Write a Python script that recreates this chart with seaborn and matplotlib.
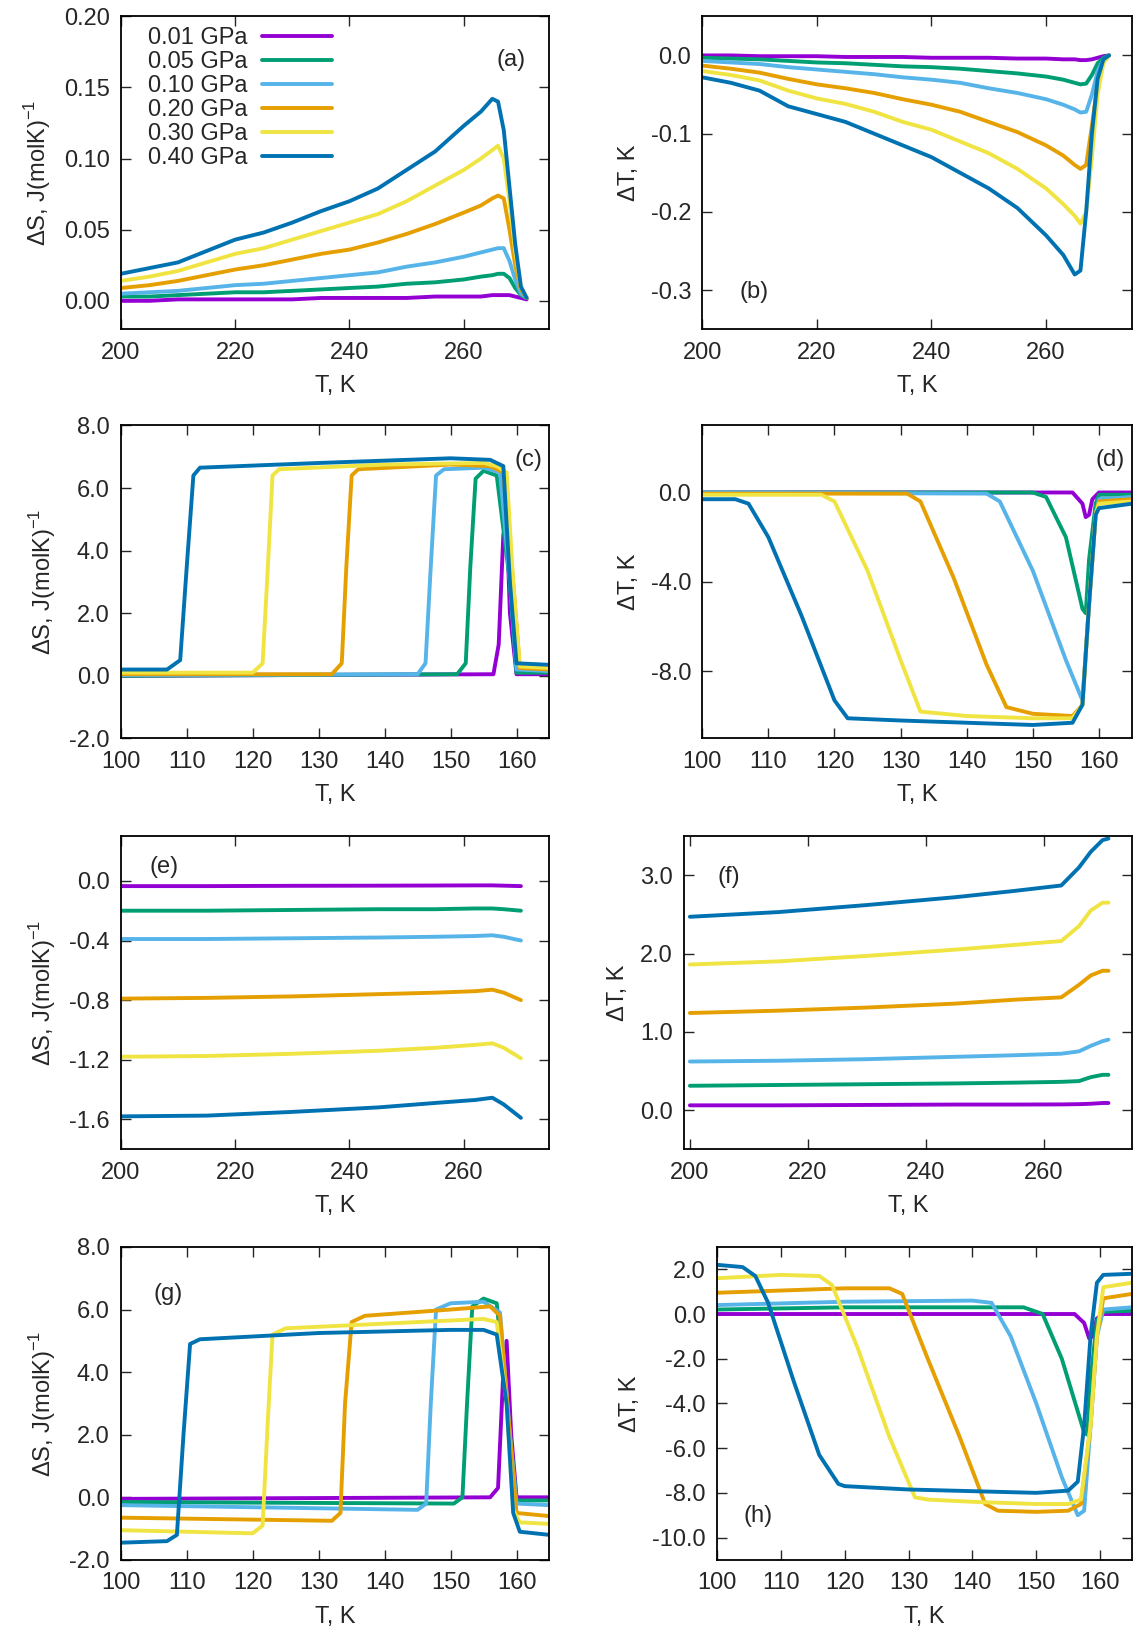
import numpy as np
import pandas as pd
import matplotlib
matplotlib.use("Agg")
import matplotlib.pyplot as plt
import seaborn as sns

pressures = ["0.01 GPa", "0.05 GPa", "0.10 GPa", "0.20 GPa", "0.30 GPa", "0.40 GPa"]
colors = ["#9400d3", "#009e73", "#56b4e9", "#e69f00", "#f0e442", "#0072b2"]

# ---- (a) dS, high T ----
a_x = [200, 205, 210, 215, 220, 225, 230, 235, 240, 245, 250, 255, 260, 263, 265, 266, 267, 268, 269, 270, 271]
a_y = [
    [0.000, 0.000, 0.001, 0.001, 0.001, 0.001, 0.001, 0.002, 0.002, 0.002, 0.002, 0.003, 0.003, 0.003, 0.004, 0.004, 0.004, 0.004, 0.003, 0.002, 0.001],
    [0.003, 0.003, 0.004, 0.005, 0.006, 0.006, 0.007, 0.008, 0.009, 0.010, 0.012, 0.013, 0.015, 0.017, 0.018, 0.019, 0.019, 0.016, 0.009, 0.004, 0.002],
    [0.005, 0.006, 0.007, 0.009, 0.011, 0.012, 0.014, 0.016, 0.018, 0.020, 0.024, 0.027, 0.031, 0.034, 0.036, 0.037, 0.037, 0.028, 0.015, 0.005, 0.002],
    [0.009, 0.011, 0.014, 0.018, 0.022, 0.025, 0.029, 0.033, 0.036, 0.041, 0.047, 0.054, 0.062, 0.067, 0.072, 0.074, 0.072, 0.050, 0.025, 0.008, 0.002],
    [0.014, 0.017, 0.021, 0.027, 0.033, 0.037, 0.043, 0.049, 0.055, 0.061, 0.070, 0.081, 0.092, 0.100, 0.106, 0.109, 0.100, 0.070, 0.035, 0.010, 0.002],
    [0.019, 0.023, 0.027, 0.035, 0.043, 0.048, 0.055, 0.063, 0.070, 0.079, 0.092, 0.105, 0.123, 0.133, 0.142, 0.140, 0.120, 0.080, 0.040, 0.010, 0.002],
]

# ---- (b) dT, high T ----
b_x = a_x
b_y = [
    [0.0, 0.0, -0.001, -0.001, -0.001, -0.002, -0.002, -0.002, -0.003, -0.003, -0.003, -0.004, -0.004, -0.005, -0.005, -0.006, -0.006, -0.005, -0.003, -0.001, 0.0],
    [-0.003, -0.004, -0.005, -0.007, -0.009, -0.010, -0.012, -0.014, -0.015, -0.017, -0.020, -0.023, -0.027, -0.031, -0.035, -0.037, -0.036, -0.025, -0.010, -0.003, 0.0],
    [-0.007, -0.009, -0.011, -0.015, -0.018, -0.021, -0.024, -0.028, -0.031, -0.035, -0.042, -0.048, -0.056, -0.063, -0.069, -0.073, -0.072, -0.050, -0.020, -0.005, 0.0],
    [-0.013, -0.017, -0.022, -0.030, -0.037, -0.042, -0.048, -0.056, -0.063, -0.072, -0.085, -0.098, -0.115, -0.128, -0.140, -0.145, -0.140, -0.090, -0.035, -0.008, 0.0],
    [-0.020, -0.025, -0.032, -0.045, -0.055, -0.062, -0.072, -0.085, -0.095, -0.110, -0.125, -0.145, -0.170, -0.190, -0.205, -0.215, -0.200, -0.130, -0.050, -0.010, 0.0],
    [-0.028, -0.035, -0.045, -0.065, -0.075, -0.085, -0.100, -0.115, -0.130, -0.150, -0.170, -0.195, -0.230, -0.255, -0.280, -0.275, -0.200, -0.100, -0.030, -0.005, 0.0],
]

# ---- (c) dS, low T ----
c_x = [
    [100, 156.5, 157.3, 158, 158.5, 159, 160, 165],
    [100, 151, 152.3, 153, 153.8, 155, 157, 159, 160, 165],
    [100, 145, 146.2, 147, 147.8, 149, 155, 157.5, 159, 160, 165],
    [100, 132, 133.5, 134.2, 135, 136, 150, 156, 158, 159.5, 160.5, 165],
    [100, 120, 121.5, 122.3, 123, 124, 140, 155, 157, 158.5, 159.5, 160.5, 165],
    [100, 107, 109, 110, 111, 112, 130, 150, 156, 158, 159, 160, 165],
]
c_y = [
    [0, 0.05, 1, 4.5, 5.0, 2, 0.05, 0.05],
    [0.0, 0.05, 0.4, 3.5, 6.3, 6.55, 6.4, 3, 0.1, 0.1],
    [0.02, 0.05, 0.4, 3.5, 6.4, 6.6, 6.65, 6.5, 3, 0.2, 0.15],
    [0.05, 0.05, 0.4, 3.5, 6.4, 6.6, 6.75, 6.7, 6.5, 3, 0.25, 0.2],
    [0.1, 0.1, 0.4, 3.5, 6.4, 6.6, 6.75, 6.8, 6.7, 6.5, 3, 0.3, 0.25],
    [0.2, 0.2, 0.5, 3.5, 6.4, 6.65, 6.8, 6.95, 6.9, 6.7, 3, 0.4, 0.35],
]

# ---- (d) dT, low T ----
d_x = [
    [100, 156, 157.5, 158, 158.5, 159, 160, 165],
    [100, 150, 152, 155, 157.5, 158, 158.5, 159.5, 160, 165],
    [100, 143, 145, 150, 155, 157.5, 158.5, 159.5, 160, 165],
    [100, 131, 133, 138, 143, 146, 150, 156, 157.5, 158.5, 159.5, 160, 165],
    [100, 118, 120, 125, 130, 133, 140, 150, 156, 157.5, 158.5, 159.5, 160, 165],
    [100, 105, 107, 110, 115, 120, 122, 130, 150, 156, 157.5, 158.5, 159.5, 160, 165],
]
d_y = [
    [0, 0, -0.5, -1.1, -1.0, -0.3, 0, 0],
    [0, 0, -0.2, -2, -5.2, -5.4, -3, -0.5, -0.1, -0.1],
    [0, -0.05, -0.4, -3.5, -7.5, -9.3, -5, -1, -0.3, -0.2],
    [-0.05, -0.05, -0.4, -3.8, -7.7, -9.6, -9.9, -10, -9.5, -5, -1, -0.4, -0.3],
    [-0.1, -0.1, -0.4, -3.5, -7.5, -9.8, -10.0, -10.1, -10.1, -9.5, -5, -1, -0.5, -0.4],
    [-0.3, -0.3, -0.5, -2, -5.5, -9.3, -10.1, -10.2, -10.4, -10.3, -9.5, -5, -1, -0.7, -0.5],
]

# ---- (e) dS, high T, reverse ----
e_x = [200, 215, 230, 245, 255, 262, 265, 267, 270]
e_y = [
    [-0.035, -0.035, -0.033, -0.032, -0.031, -0.030, -0.030, -0.032, -0.035],
    [-0.20, -0.20, -0.195, -0.19, -0.19, -0.185, -0.185, -0.19, -0.20],
    [-0.39, -0.39, -0.385, -0.38, -0.375, -0.37, -0.365, -0.375, -0.40],
    [-0.79, -0.785, -0.775, -0.76, -0.75, -0.74, -0.73, -0.75, -0.80],
    [-1.18, -1.175, -1.16, -1.14, -1.12, -1.10, -1.09, -1.12, -1.19],
    [-1.58, -1.575, -1.55, -1.52, -1.49, -1.47, -1.455, -1.50, -1.59],
]

# ---- (f) dT, high T, reverse ----
f_x = [200, 215, 230, 245, 255, 263, 266, 268, 270, 271]
f_y = [
    [0.06, 0.06, 0.065, 0.07, 0.07, 0.072, 0.075, 0.08, 0.09, 0.09],
    [0.31, 0.32, 0.33, 0.34, 0.35, 0.36, 0.37, 0.42, 0.45, 0.45],
    [0.62, 0.63, 0.65, 0.68, 0.70, 0.72, 0.75, 0.82, 0.88, 0.90],
    [1.24, 1.27, 1.31, 1.36, 1.41, 1.44, 1.60, 1.72, 1.78, 1.78],
    [1.86, 1.90, 1.97, 2.05, 2.11, 2.16, 2.35, 2.55, 2.65, 2.65],
    [2.47, 2.53, 2.62, 2.72, 2.80, 2.87, 3.10, 3.30, 3.45, 3.47],
]

# ---- (g) dS, low T, reverse ----
g_x = [
    [100, 156, 157.2, 158, 158.5, 159.2, 160, 165],
    [100, 150.5, 151.8, 152.5, 153.3, 155, 157, 159, 160, 165],
    [100, 145, 146.3, 147, 147.8, 150, 155, 157.5, 159, 160, 165],
    [100, 132, 133.3, 134, 135, 137, 150, 156, 157.5, 159, 160, 165],
    [100, 120, 121.5, 122.3, 123, 125, 140, 155, 157, 158.5, 159.5, 160.5, 165],
    [100, 107, 108.5, 109.5, 110.5, 112, 130, 150, 155, 157, 158.5, 159.5, 160.5, 165],
]
g_y = [
    [-0.05, 0, 0.3, 4, 5.0, 2, 0, 0],
    [-0.15, -0.2, 0, 3, 6.1, 6.35, 6.2, 2, -0.1, -0.1],
    [-0.25, -0.4, -0.2, 3, 6.0, 6.2, 6.25, 5.9, 2, -0.2, -0.25],
    [-0.65, -0.75, -0.5, 3, 5.6, 5.8, 6.0, 6.1, 5.8, 2, -0.5, -0.6],
    [-1.05, -1.15, -0.9, 2.5, 5.2, 5.4, 5.55, 5.7, 5.6, 3, -0.4, -0.8, -0.85],
    [-1.45, -1.4, -1.2, 2, 4.9, 5.05, 5.25, 5.35, 5.35, 5.2, 3, -0.5, -1.1, -1.2],
]

# ---- (h) dT, low T, reverse ----
h_x = [
    [100, 156, 157.5, 158.3, 158.8, 159.5, 160.5, 165],
    [100, 120, 148, 151, 154, 157.5, 158, 158.5, 159.5, 160.5, 165],
    [100, 120, 140, 143, 146, 150, 154, 156.5, 157.5, 158.5, 159.5, 160.5, 165],
    [100, 120, 127, 129, 133, 138, 142, 144, 150, 155, 157, 158.5, 159.5, 160.5, 165],
    [100, 110, 116, 118, 122, 127, 131, 133, 140, 150, 155, 157, 158.5, 159.5, 160.5, 165],
    [100, 104, 106, 108, 112, 116, 119, 120, 130, 150, 155, 156.5, 157.5, 158.5, 159.5, 160.5, 165],
]
h_y = [
    [0, 0, -0.4, -1.1, -1.0, -0.2, 0, 0],
    [0.2, 0.3, 0.3, 0.0, -2, -5.3, -5.4, -3, -0.3, 0.1, 0.15],
    [0.4, 0.55, 0.6, 0.5, -1.0, -4, -7.3, -9, -8.8, -5, -1, 0.2, 0.3],
    [0.95, 1.15, 1.15, 0.9, -2, -5.5, -8.5, -8.8, -8.85, -8.8, -8.5, -5, -1, 0.7, 0.9],
    [1.6, 1.75, 1.7, 1.3, -1.5, -5.5, -8.2, -8.3, -8.4, -8.5, -8.5, -8.3, -5, -1, 1.2, 1.4],
    [2.2, 2.1, 1.7, 0.5, -3.0, -6.3, -7.6, -7.7, -7.85, -8.0, -7.9, -7.5, -5, -1, 1.4, 1.75, 1.8],
]

sns.set_style("ticks")
plt.rcParams['font.family'] = ['Liberation Sans', 'DejaVu Sans']
plt.rcParams['mathtext.fontset'] = 'custom'
plt.rcParams['mathtext.rm'] = 'Liberation Sans'

fig = plt.figure(figsize=(11.4, 16.3), dpi=100)

# per-panel left edge (figure fraction); all share the right edge of their column
lefts = [0.106, 0.616, 0.106, 0.616, 0.106, 0.600, 0.106, 0.629]
rights = [0.482, 0.993]
bottoms = [0.798, 0.547, 0.295, 0.043]
h = 0.192

ds_label = "ΔS, J(molK)$^{-1}$"
dt_label = "ΔT, K"
fs = 17

panels = [
    # xs, ys, xlim, ylim, yticks, yfmt, ylabel, tag, tagpos
    (a_x, a_y, (200, 275), (-0.02, 0.20), [0.0, 0.05, 0.10, 0.15, 0.20], "%.2f", ds_label, "(a)", (0.91, 0.86)),
    (b_x, b_y, (200, 275), (-0.35, 0.05), [-0.3, -0.2, -0.1, 0.0], "%.1f", dt_label, "(b)", (0.12, 0.12)),
    (c_x, c_y, (100, 165), (-2, 8), [-2, 0, 2, 4, 6, 8], "%.1f", ds_label, "(c)", (0.95, 0.89)),
    (d_x, d_y, (100, 165), (-11, 3), [-8, -4, 0], "%.1f", dt_label, "(d)", (0.95, 0.89)),
    (e_x, e_y, (200, 275), (-1.8, 0.3), [-1.6, -1.2, -0.8, -0.4, 0.0], "%.1f", ds_label, "(e)", (0.1, 0.90)),
    (f_x, f_y, (199, 275), (-0.5, 3.5), [0, 1, 2, 3], "%.1f", dt_label, "(f)", (0.1, 0.87)),
    (g_x, g_y, (100, 165), (-2, 8), [-2, 0, 2, 4, 6, 8], "%.1f", ds_label, "(g)", (0.11, 0.85)),
    (h_x, h_y, (100, 165), (-11, 3), [-10, -8, -6, -4, -2, 0, 2], "%.1f", dt_label, "(h)", (0.1, 0.14)),
]

for i, (xs, ys, xlim, ylim, yticks, yfmt, ylabel, tag, tagpos) in enumerate(panels):
    row, col = divmod(i, 2)
    ax = fig.add_axes([lefts[i], bottoms[row], rights[col] - lefts[i], h])
    for k in range(6):
        x = xs if not isinstance(xs[0], list) else xs[k]
        df = pd.DataFrame({"T": x, "v": ys[k]})
        sns.lineplot(data=df, x="T", y="v", ax=ax, color=colors[k], lw=2.8,
                     sort=False, label=pressures[k] if i == 0 else None)
    ax.set_xlim(*xlim)
    ax.set_ylim(*ylim)
    if xlim[0] == 100:
        ax.set_xticks(range(100, 161, 10))
    else:
        ax.set_xticks(range(200, 261, 20))
    ax.set_yticks(yticks)
    ax.yaxis.set_major_formatter(matplotlib.ticker.FormatStrFormatter(yfmt))
    ax.tick_params(direction="in", top=True, right=True, labelsize=fs, length=7, width=1)
    ax.tick_params(axis="x", pad=9)
    ax.tick_params(axis="y", pad=8)
    for s in ax.spines.values():
        s.set_linewidth(1.3)
        s.set_color("black")
    ax.set_xlabel("T, K", fontsize=fs, labelpad=8)
    ax.set_ylabel(ylabel, fontsize=fs, labelpad=8)
    ax.text(tagpos[0], tagpos[1], tag, transform=ax.transAxes, fontsize=fs,
            ha="center", va="center")
    if i == 0:
        ax.legend(loc="upper left", bbox_to_anchor=(0.03, 1.01), frameon=False,
                  markerfirst=False, fontsize=fs, handlelength=3, labelspacing=0.08,
                  borderaxespad=0.2, handletextpad=0.6)
    elif ax.get_legend() is not None:
        ax.get_legend().remove()

fig.savefig("out.png", dpi=100)
